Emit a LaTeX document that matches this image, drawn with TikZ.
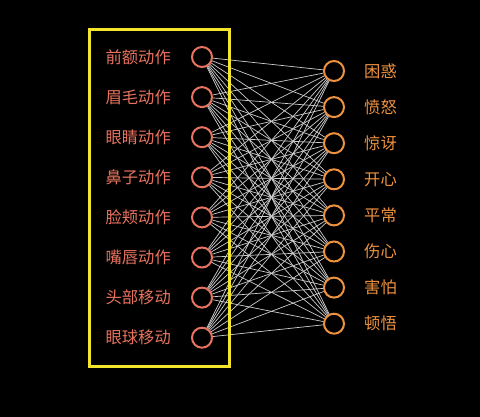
\documentclass[tikz,border=0pt]{standalone}
\usepackage{fontspec}
\newfontfamily\cjk{Noto Sans CJK SC}
\usepackage{xcolor}
\usetikzlibrary{positioning}
\definecolor{inpcol}{HTML}{E8735E}
\definecolor{outcol}{HTML}{EE9240}
\definecolor{boxcol}{HTML}{F2E52C}
\definecolor{edgecol}{HTML}{CDCDCD}

\begin{document}
\begin{tikzpicture}[
			x=1pt, y=-1pt,
			inp/.style={draw=inpcol,circle,line width=2pt,minimum size=20pt,inner sep=0pt},
			outp/.style={draw=outcol,circle,line width=2pt,minimum size=20pt,inner sep=0pt},
			lab/.style={font=\cjk\fontsize{16.3}{16}\selectfont,inner sep=0pt},
			edge/.style={draw=edgecol,line width=0.7pt}
			]
			\fill[black] (0,0) rectangle (480,417);
			\useasboundingbox (0,0) rectangle (480,417);
			
			% input layer
			\foreach \name [count=\i] in {前额动作,眉毛动作,眼睛动作,鼻子动作,脸颊动作,嘴唇动作,头部移动,眼球移动} {
				\node[inp] (i\i) at (202,{57+40.1*(\i-1)}) {};
				\node[lab,text=inpcol,left=20pt of i\i] (li\i) {\name};
			}
			
			% output layer
			\foreach \name [count=\j] in {困惑,愤怒,惊讶,开心,平常,伤心,害怕,顿悟} {
				\node[outp] (o\j) at (334,{71+36.1*(\j-1)}) {};
				\node[lab,text=outcol,right=19pt of o\j] (lo\j) {\name};
			}
			
			\foreach \i in {1,...,8}
				\foreach \j in {1,...,8}
					\draw[edge] (i\i) -- (o\j);
			
			\draw[boxcol,line width=3pt] (89,30) rectangle (229,366);
		\end{tikzpicture}
\end{document}
